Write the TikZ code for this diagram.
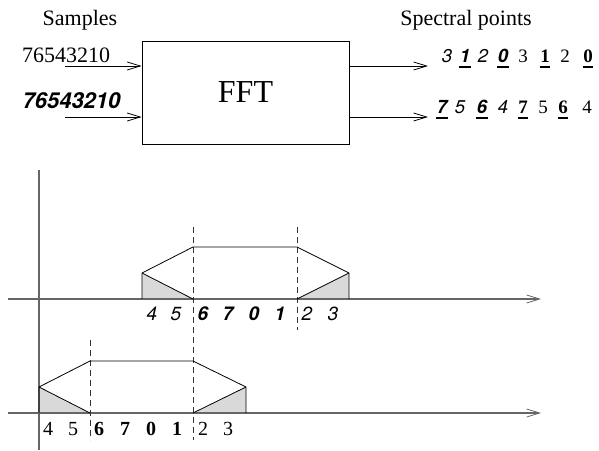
\documentclass[tikz,border=0pt]{standalone}
\usepackage{fontspec}
\setmainfont{Liberation Serif}
\setsansfont{TeX Gyre Heros}
\usetikzlibrary{arrows.meta}
\begin{document}
\begin{tikzpicture}[x=1pt,y=-1pt,
  barb/.style={-{Straight Barb[length=13pt,width=8pt,line width=0.8pt]}},
  conn/.style={draw, line width=0.8pt, barb},
  axisline/.style={draw=black!60, line width=1.2pt},
  winline/.style={draw=black, line width=0.8pt, line join=round},
  shadetri/.style={fill=black!15, draw=none},
  guide/.style={draw=black!80, line width=0.7pt, dash pattern=on 6pt off 4pt},
  txt/.style={inner sep=0pt, anchor=base},
  bigserif/.style={txt, font=\fontsize{22pt}{24pt}\selectfont},
  bigsbi/.style={txt, font=\fontsize{22pt}{24pt}\selectfont\sffamily\bfseries\itshape},
  digSI/.style={txt, font=\fontsize{18.5pt}{20pt}\selectfont\sffamily\itshape},
  digSBI/.style={txt, font=\fontsize{18.5pt}{20pt}\selectfont\sffamily\bfseries\itshape},
  digRM/.style={txt, font=\fontsize{19pt}{20pt}\selectfont},
  digRB/.style={txt, font=\fontsize{19pt}{20pt}\selectfont\bfseries},
  labSI/.style={txt, font=\fontsize{19pt}{21pt}\selectfont\sffamily\itshape},
  labSBI/.style={txt, font=\fontsize{19pt}{21pt}\selectfont\sffamily\bfseries\itshape},
  labRM/.style={txt, font=\fontsize{20pt}{22pt}\selectfont},
  labRB/.style={txt, font=\fontsize{20pt}{22pt}\selectfont\bfseries},
  ulstyle/.style={draw, line width=1.3pt}
]
\useasboundingbox (0,0) rectangle (599,450);

% ---- top: FFT block ----
\node[bigserif] (samples) at (80,25) {Samples};
\node[bigserif] (spectral) at (466,25) {Spectral points};
\node[bigserif] (seq1) at (66,62) {76543210};
\node[bigsbi] (seq2) at (71.5,108) {76543210};
\node[draw, line width=0.8pt, minimum width=207pt, minimum height=103pt,
      font=\fontsize{32pt}{34pt}\selectfont] (fft) at (245.5,92.5) {FFT};

\coordinate (in1) at (65,66);
\coordinate (in2) at (65,117);
\coordinate (out1) at (428,66);
\coordinate (out2) at (428,117);
\draw[conn] (in1) -- (in1 -| fft.west);
\draw[conn] (in2) -- (in2 -| fft.west);
\draw[conn] (out1 -| fft.east) -- (out1);
\draw[conn] (out2 -| fft.east) -- (out2);

% spectral rows
\foreach \x/\s/\d [count=\i] in {447/digSI/3, 465/digSBI/1, 483/digSI/2, 503/digSBI/0,
                                 523/digRM/3, 545/digRB/1, 565/digRM/2, 588/digRB/0}
  \node[\s] (ra\i) at (\x,62) {\d};
\foreach \x/\s/\d [count=\i] in {442/digSBI/7, 460/digSI/5, 482/digSBI/6, 503/digSI/4,
                                 523/digRB/7, 543/digRM/5, 563/digRB/6, 587/digRM/4}
  \node[\s] (rb\i) at (\x,113) {\d};
\foreach \i in {2,4,6,8}
  \draw[ulstyle] ([yshift=-5pt,xshift=-0.5pt]ra\i.base west) -- ([yshift=-5pt,xshift=0.5pt]ra\i.base east);
\foreach \i in {1,3,5,7}
  \draw[ulstyle] ([yshift=-5pt,xshift=-0.5pt]rb\i.base west) -- ([yshift=-5pt,xshift=0.5pt]rb\i.base east);

% ---- bottom: windows ----
% shaded triangles
\fill[shadetri] (142,299) -- (142,273) -- (193,299) -- cycle;
\fill[shadetri] (297,299) -- (349,273) -- (349,299) -- cycle;
\fill[shadetri] (39,413) -- (39,387) -- (90,413) -- cycle;
\fill[shadetri] (193,413) -- (246,387) -- (246,413) -- cycle;

% axes
\coordinate (vtop) at (39,170);
\coordinate (vbot) at (39,450);
\draw[axisline] (vtop) -- (vbot);
\coordinate (h1s) at (8,299);
\coordinate (h1e) at (541,299);
\coordinate (h2s) at (8,413);
\coordinate (h2e) at (541,413);
\draw[axisline, barb] (h1s) -- (h1e);
\draw[axisline, barb] (h2s) -- (h2e);

% dashed guides
\draw[guide] (193,227) -- (193,440);
\draw[guide] (297,227) -- (297,330);
\draw[guide] (90,340) -- (90,440);

% upper window
\draw[winline] (142,299) -- (142,273) -- (193,247) -- (297,247) -- (349,273) -- (349,299);
\draw[winline] (142,273) -- (193,299);
\draw[winline] (297,299) -- (349,273);
% lower window
\draw[winline] (39,413) -- (39,387) -- (90,361) -- (193,361) -- (246,387) -- (246,413);
\draw[winline] (39,387) -- (90,413);
\draw[winline] (193,413) -- (246,387);

% labels
\foreach \x/\s/\d [count=\i] in {152/labSI/4, 176/labSI/5, 203/labSBI/6, 228/labSBI/7,
                                 254/labSBI/0, 280/labSBI/1, 307/labSI/2, 333/labSI/3}
  \node[\s] (la\i) at (\x,320) {\d};
\foreach \x/\s/\d [count=\i] in {48/labRM/4, 73/labRM/5, 99/labRB/6, 125/labRB/7,
                                 151/labRB/0, 177/labRB/1, 203/labRM/2, 228/labRM/3}
  \node[\s] (lb\i) at (\x,435) {\d};
\end{tikzpicture}
\end{document}
